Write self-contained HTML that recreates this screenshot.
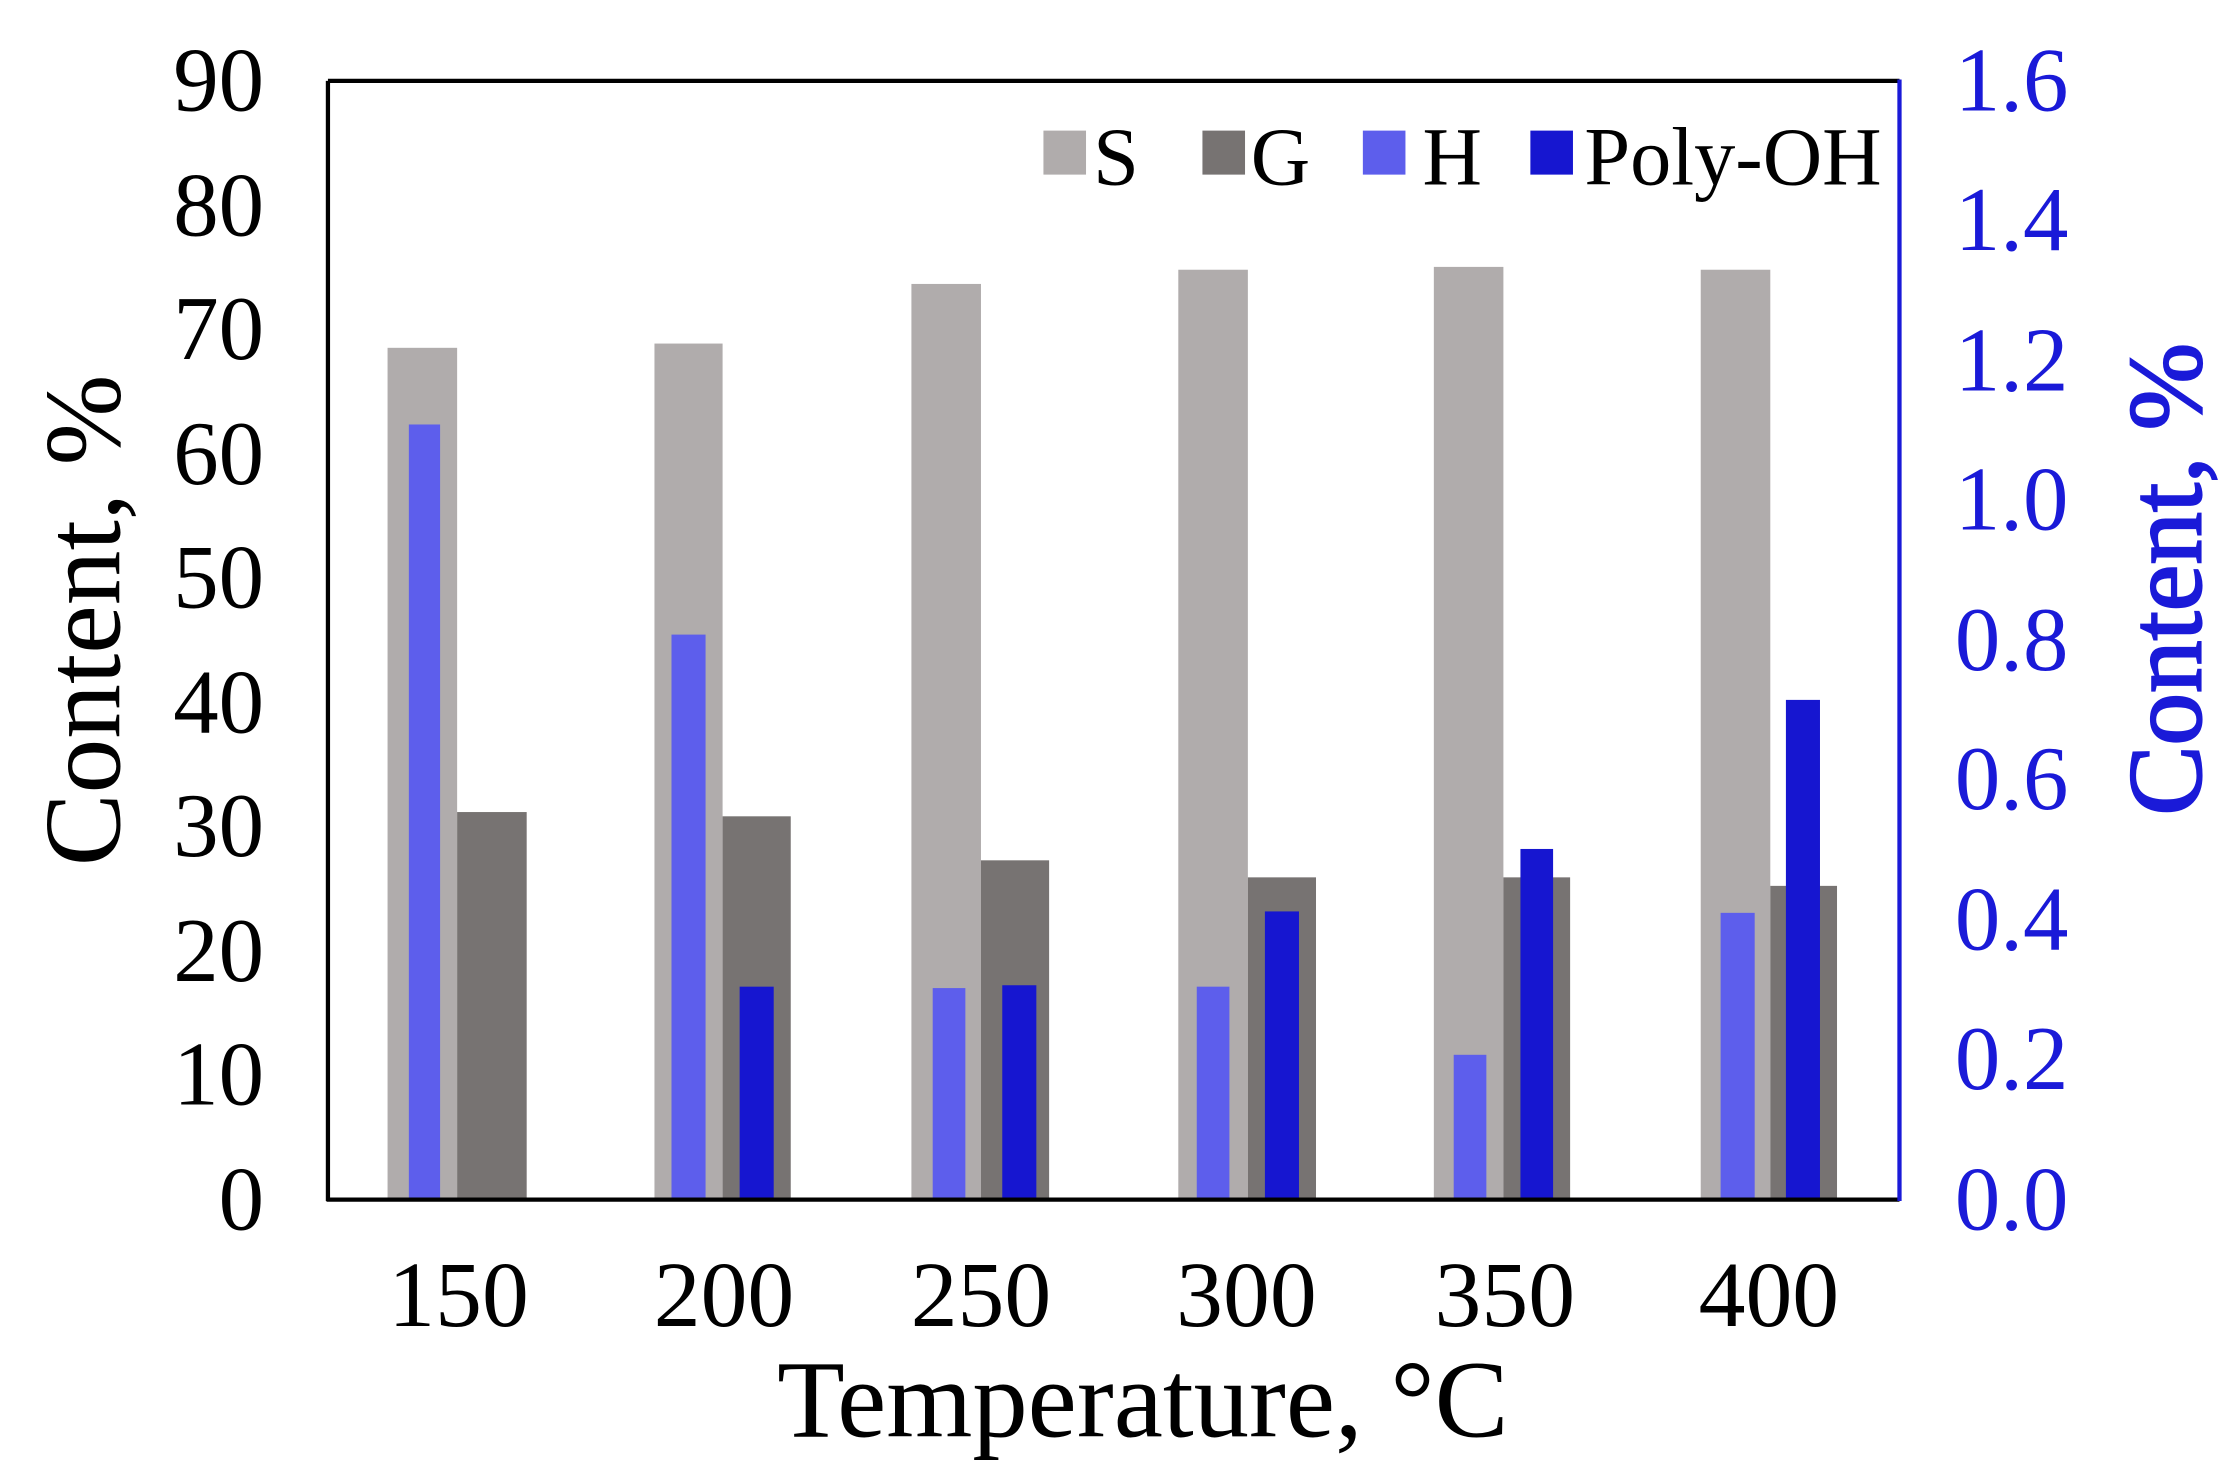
<!DOCTYPE html>
<html><head><style>html,body{margin:0;padding:0;background:#fff}svg{display:block}</style></head>
<body>
<svg width="2226" height="1480" viewBox="0 0 1568 1042.5" preserveAspectRatio="none" xmlns="http://www.w3.org/2000/svg" font-family="'Liberation Serif', serif">
<rect width="1568" height="1042.5" fill="#fff"/>
<g>
<rect x="273" y="245" width="49" height="600" fill="#b0acac"/>
<rect x="322" y="572" width="49" height="273" fill="#777372"/>
<rect x="288" y="299" width="22" height="546" fill="#5d5eec"/>
<rect x="461" y="242" width="48" height="603" fill="#b0acac"/>
<rect x="509" y="575" width="48" height="270" fill="#777372"/>
<rect x="473" y="447" width="24" height="398" fill="#5d5eec"/>
<rect x="521" y="695" width="24" height="150" fill="#1616d0"/>
<rect x="642" y="200" width="49" height="645" fill="#b0acac"/>
<rect x="691" y="606" width="48" height="239" fill="#777372"/>
<rect x="657" y="696" width="23" height="149" fill="#5d5eec"/>
<rect x="706" y="694" width="24" height="151" fill="#1616d0"/>
<rect x="830" y="190" width="49" height="655" fill="#b0acac"/>
<rect x="879" y="618" width="48" height="227" fill="#777372"/>
<rect x="843" y="695" width="23" height="150" fill="#5d5eec"/>
<rect x="891" y="642" width="24" height="203" fill="#1616d0"/>
<rect x="1010" y="188" width="49" height="657" fill="#b0acac"/>
<rect x="1059" y="618" width="47" height="227" fill="#777372"/>
<rect x="1024" y="743" width="23" height="102" fill="#5d5eec"/>
<rect x="1071" y="598" width="23" height="247" fill="#1616d0"/>
<rect x="1198" y="190" width="49" height="655" fill="#b0acac"/>
<rect x="1247" y="624" width="47" height="221" fill="#777372"/>
<rect x="1212" y="643" width="24" height="202" fill="#5d5eec"/>
<rect x="1258" y="493" width="24" height="352" fill="#1616d0"/>
</g>
<line x1="231" y1="57" x2="1338" y2="57" stroke="#000" stroke-width="3"/>
<line x1="231" y1="57" x2="231" y2="846" stroke="#000" stroke-width="3"/>
<line x1="230" y1="845" x2="1338" y2="845" stroke="#000" stroke-width="3"/>
<line x1="1338" y1="56" x2="1338" y2="846" stroke="#1a1ad8" stroke-width="3"/>
<g font-size="64" fill="#000" text-anchor="end">
<text x="186" y="78">90</text><text x="186" y="166">80</text><text x="186" y="253">70</text>
<text x="186" y="341">60</text><text x="186" y="428">50</text><text x="186" y="516">40</text>
<text x="186" y="603">30</text><text x="186" y="691">20</text><text x="186" y="778">10</text>
<text x="186" y="866">0</text>
</g>
<g font-size="64" fill="#1a1ad8" text-anchor="start">
<text x="1377" y="78">1.6</text><text x="1377" y="176">1.4</text><text x="1377" y="275">1.2</text>
<text x="1377" y="373">1.0</text><text x="1377" y="472">0.8</text><text x="1377" y="570">0.6</text>
<text x="1377" y="669">0.4</text><text x="1377" y="767">0.2</text><text x="1377" y="866">0.0</text>
</g>
<g font-size="66" fill="#000" text-anchor="middle">
<text x="323" y="934">150</text><text x="510" y="934">200</text><text x="691" y="934">250</text>
<text x="878" y="934">300</text><text x="1060" y="934">350</text><text x="1246" y="934">400</text>
</g>
<text x="805" y="1012" font-size="78" text-anchor="middle">Temperature, °C</text>
<text transform="translate(84,437) rotate(-90)" font-size="77" text-anchor="middle">Content, %</text>
<text transform="translate(1550,408) rotate(-90)" font-size="74" fill="#1a1ad8" text-anchor="middle" stroke="#1a1ad8" stroke-width="1.5">Content, %</text>
<rect x="735" y="92" width="30" height="31" fill="#b0acac"/>
<text x="770" y="130" font-size="58">S</text>
<rect x="847" y="92" width="30" height="31" fill="#777372"/>
<text x="881" y="130" font-size="58">G</text>
<rect x="960" y="92" width="30" height="31" fill="#5d5eec"/>
<text x="1002" y="130" font-size="58">H</text>
<rect x="1078" y="92" width="30" height="31" fill="#1616d0"/>
<text x="1116" y="130" font-size="58">Poly-OH</text>
</svg>
</body></html>
